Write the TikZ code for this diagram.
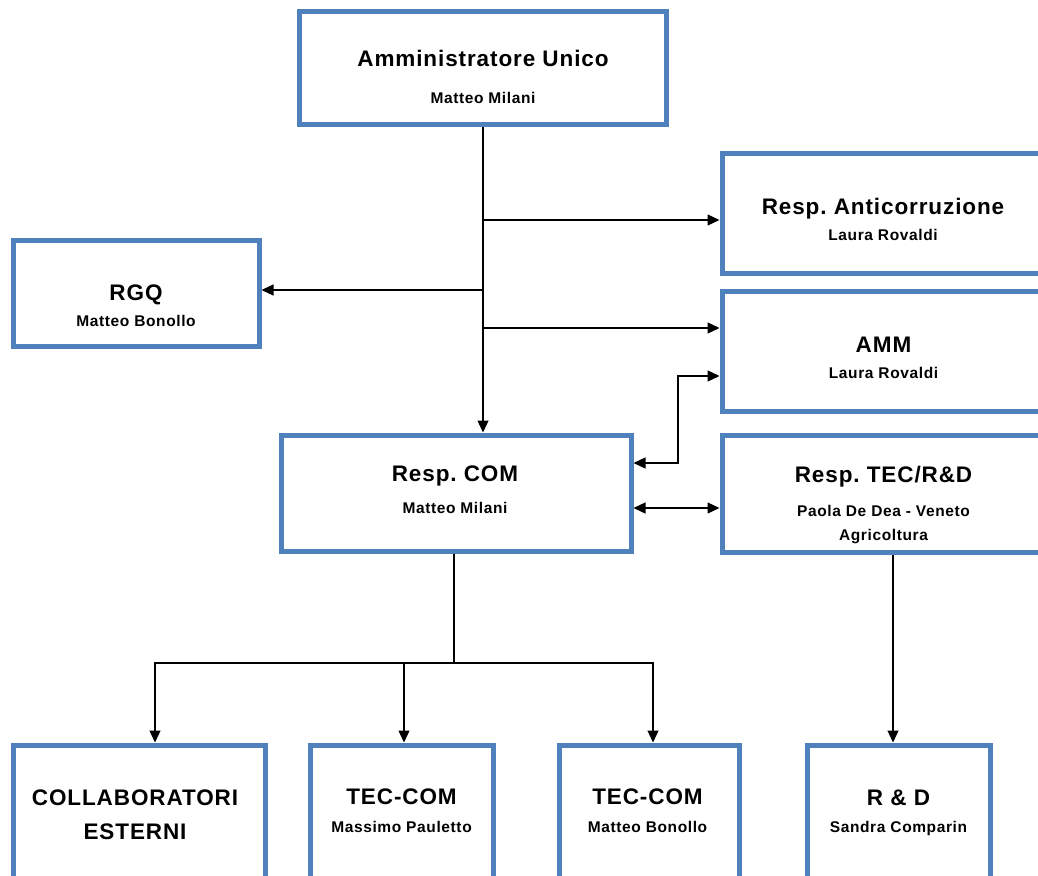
\documentclass[tikz,border=0pt]{standalone}
\usepackage{fontspec}
\setmainfont{Liberation Sans}[LetterSpace=4]
\usetikzlibrary{arrows.meta}
\definecolor{boxblue}{RGB}{79,129,189}
\newcommand{\ttl}[1]{{\fontsize{22.5}{18}\selectfont #1}}
\tikzset{
	unit/.style={rectangle,draw=boxblue,line width=5pt,fill=white,inner sep=0pt},
	lbl/.style={align=center,anchor=north,inner sep=0pt,font=\bfseries\fontsize{15.5}{18}\selectfont},
	wire/.style={line width=1.3pt},
	link/.style={wire,-{Triangle[length=12pt,width=11pt]}},
	twoway/.style={wire,{Triangle[length=12pt,width=11pt]}-{Triangle[length=12pt,width=11pt]}},
}
\begin{document}
\begin{tikzpicture}[x=1pt,y=-1pt]
	\useasboundingbox (0,0) rectangle (1038,875);
	\clip (0,0) rectangle (1038,875);
	% the boxes
	\node[unit,minimum width=367pt,minimum height=112pt] (admin) at (482.5,68) {};
	\node[unit,minimum width=321pt,minimum height=120pt] (anticorr) at (882.5,213) {};
	\node[unit,minimum width=321pt,minimum height=120pt] (amm) at (882.5,351) {};
	\node[unit,minimum width=321pt,minimum height=117pt] (tecrd) at (882.5,493.5) {};
	\node[unit,minimum width=350pt,minimum height=116pt] (com) at (456,493) {};
	\node[unit,minimum width=246pt,minimum height=106pt] (rgq) at (136,293) {};
	\node[unit,minimum width=252pt,minimum height=136pt] (collab) at (139,813) {};
	\node[unit,minimum width=183pt,minimum height=136pt] (teccom1) at (401.5,813) {};
	\node[unit,minimum width=180pt,minimum height=136pt] (teccom2) at (649,813) {};
	\node[unit,minimum width=183pt,minimum height=136pt] (rnd) at (898.5,813) {};
	%% the labels
	\node[lbl] (admin-txt) at (483,50) {\ttl{Amministratore Unico}\\[18.5pt]Matteo Milani};
	\node[lbl] (anticorr-txt) at (883,198) {\ttl{Resp.\ Anticorruzione}\\[7.5pt]Laura Rovaldi};
	\node[lbl] (amm-txt) at (883.5,337) {\ttl{AMM}\\[7.5pt]Laura Rovaldi};
	\node[lbl] (tecrd-txt) at (883.5,466) {\ttl{Resp.\ TEC/R\&D}\\[15.5pt]Paola De Dea - Veneto\\[6pt]Agricoltura};
	\node[lbl] (com-txt) at (455,466) {\ttl{Resp.\ COM}\\[13.5pt]Matteo Milani};
	\node[lbl] (rgq-txt) at (136,284.5) {\ttl{RGQ}\\[8pt]Matteo Bonollo};
	\node[lbl] (collab-txt) at (135,790) {\ttl{COLLABORATORI}\\[16pt]\ttl{ESTERNI}};
	\node[lbl] (teccom1-txt) at (401.5,788.5) {\ttl{TEC-COM}\\[10pt]Massimo Pauletto};
	\node[lbl] (teccom2-txt) at (647.5,788.5) {\ttl{TEC-COM}\\[10pt]Matteo Bonollo};
	\node[lbl] (rnd-txt) at (898.5,790) {\ttl{R \& D}\\[9pt]Sandra Comparin};
	% the connectors
	\coordinate (spine) at ([xshift=0.5pt]admin.south);
	\coordinate (to-anti) at ([yshift=-7pt]anticorr.west);
	\coordinate (to-rgq) at ([yshift=3pt]rgq.east);
	\coordinate (to-amm) at ([yshift=23pt]amm.west);
	\coordinate (amm-in) at ([yshift=-25pt]amm.west);
	\coordinate (amm-bend) at ([xshift=-41.5pt]amm-in);
	\coordinate (com-in) at ([yshift=30pt]com.east);
	\coordinate (com-tec) at ([yshift=-15pt]com.east);
	\coordinate (fork) at (454,663);
	\coordinate (rnd-in) at ([xshift=-5.5pt]rnd.north);
	\draw[link] (spine) -- (spine |- com.north);
	\draw[link] (spine |- to-anti) -- (to-anti);
	\draw[link] (spine |- to-rgq) -- (to-rgq);
	\draw[link] (spine |- to-amm) -- (to-amm);
	\draw[twoway] (com-in) -| (amm-bend) -- (amm-in);
	\draw[twoway] (com-tec) -- (com-tec -| tecrd.west);
	\draw[wire] (com.south -| fork) -- (fork);
	\draw[link] (fork) -| ([xshift=16pt]collab.north);
	\draw[link] (fork) -| ([xshift=2.5pt]teccom1.north);
	\draw[link] (fork) -| ([xshift=4pt]teccom2.north);
	\draw[link] (tecrd.south -| rnd-in) -- (rnd-in);
\end{tikzpicture}
\end{document}
